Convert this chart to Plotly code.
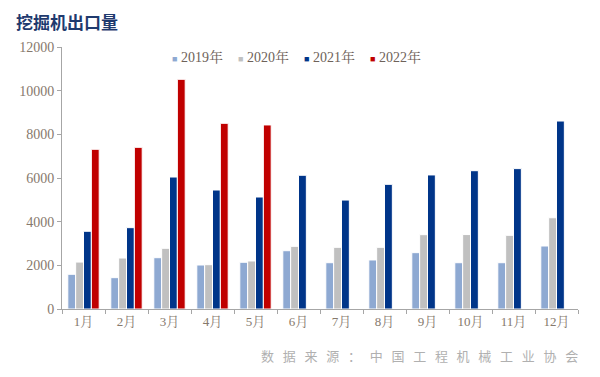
import plotly.graph_objects as go

months = ["1月", "2月", "3月", "4月", "5月", "6月", "7月", "8月", "9月", "10月", "11月", "12月"]
y2019 = [1590, 1435, 2350, 2015, 2140, 2670, 2120, 2245, 2580, 2120, 2120, 2885]
y2020 = [2150, 2335, 2780, 2030, 2200, 2870, 2825, 2825, 3405, 3410, 3375, 4180]
y2021 = [3560, 3725, 6045, 5450, 5130, 6125, 4990, 5710, 6140, 6335, 6430, 8610]
y2022 = [7315, 7405, 10520, 8505, 8430, None, None, None, None, None, None, None]
series_names = ["2019年", "2020年", "2021年", "2022年"]
yticks = [0, 2000, 4000, 6000, 8000, 10000, 12000]

colors = ["#8EA9D2", "#C0C0C0", "#003589", "#C00000"]

fig = go.Figure()
for name, vals, c in zip(series_names, [y2019, y2020, y2021, y2022], colors):
    fig.add_trace(go.Bar(x=months, y=vals, name=name,
                         marker=dict(color=c, line=dict(color="white", width=1))))

# page body has an 8px margin: work in screen pixels and shift by OFF
OFF = 8
W, H = 600 - OFF, 377 - OFF
px_left, px_right, px_top, px_bottom = 62, 578, 47, 309
L, R, T, B = px_left - OFF, W - (px_right - OFF), px_top - OFF, H - (px_bottom - OFF)
pw, ph = px_right - px_left, px_bottom - px_top


def fx(px):
    return (px - px_left) / pw


def fy(py):
    return (px_bottom - py) / ph


serif = "Liberation Serif, Noto Serif CJK SC, Noto Sans CJK SC, serif"
label_col = "#86796C"
sp = "\u00a0\u00a0\u00a0"
src = sp.join(list("数据来源：中国工程机械工业协会"))

annotations = [
    dict(text="<b>挖掘机出口量</b>", x=fx(14), y=fy(22), xref="paper", yref="paper",
         showarrow=False, xanchor="left", yanchor="middle",
         font=dict(family="Noto Sans CJK SC", size=17, color="#1F3A6E")),
    dict(text=src, x=fx(580), y=fy(355), xref="paper", yref="paper", showarrow=False,
         xanchor="right", yanchor="middle",
         font=dict(family="Noto Sans CJK SC", size=13, color="#B0B0B0")),
]
leg_x = [170, 236, 302, 368]
for name, c, lx in zip(series_names, colors, leg_x):
    annotations.append(dict(
        text=f'<span style="color:{c};font-size:9px">■</span>\u00a0{name}',
        x=fx(lx), y=fy(57), xref="paper", yref="paper", showarrow=False,
        xanchor="left", yanchor="middle",
        font=dict(family=serif, size=14, color="#6E6259")))

fig.update_layout(
    width=W, height=H,
    margin=dict(l=L, r=R, t=T, b=B, autoexpand=False),
    paper_bgcolor="white", plot_bgcolor="white",
    barmode="group", bargap=0.27, bargroupgap=0.0,
    showlegend=False,
    xaxis=dict(showline=True, linecolor="#A6A6A6", linewidth=1, ticks="outside",
               tickson="boundaries", ticklen=4, tickcolor="#A6A6A6", automargin=False,
               tickfont=dict(family=serif, size=13, color=label_col), showgrid=False),
    yaxis=dict(range=[0, 12000], tickvals=yticks, tickformat="d", showline=True,
               linecolor="#A6A6A6", linewidth=1, ticks="outside", ticklen=4,
               tickcolor="#A6A6A6", automargin=False,
               tickfont=dict(family=serif, size=14, color=label_col), showgrid=False,
               zeroline=False),
    annotations=annotations,
)
fig.write_html("out.html")
